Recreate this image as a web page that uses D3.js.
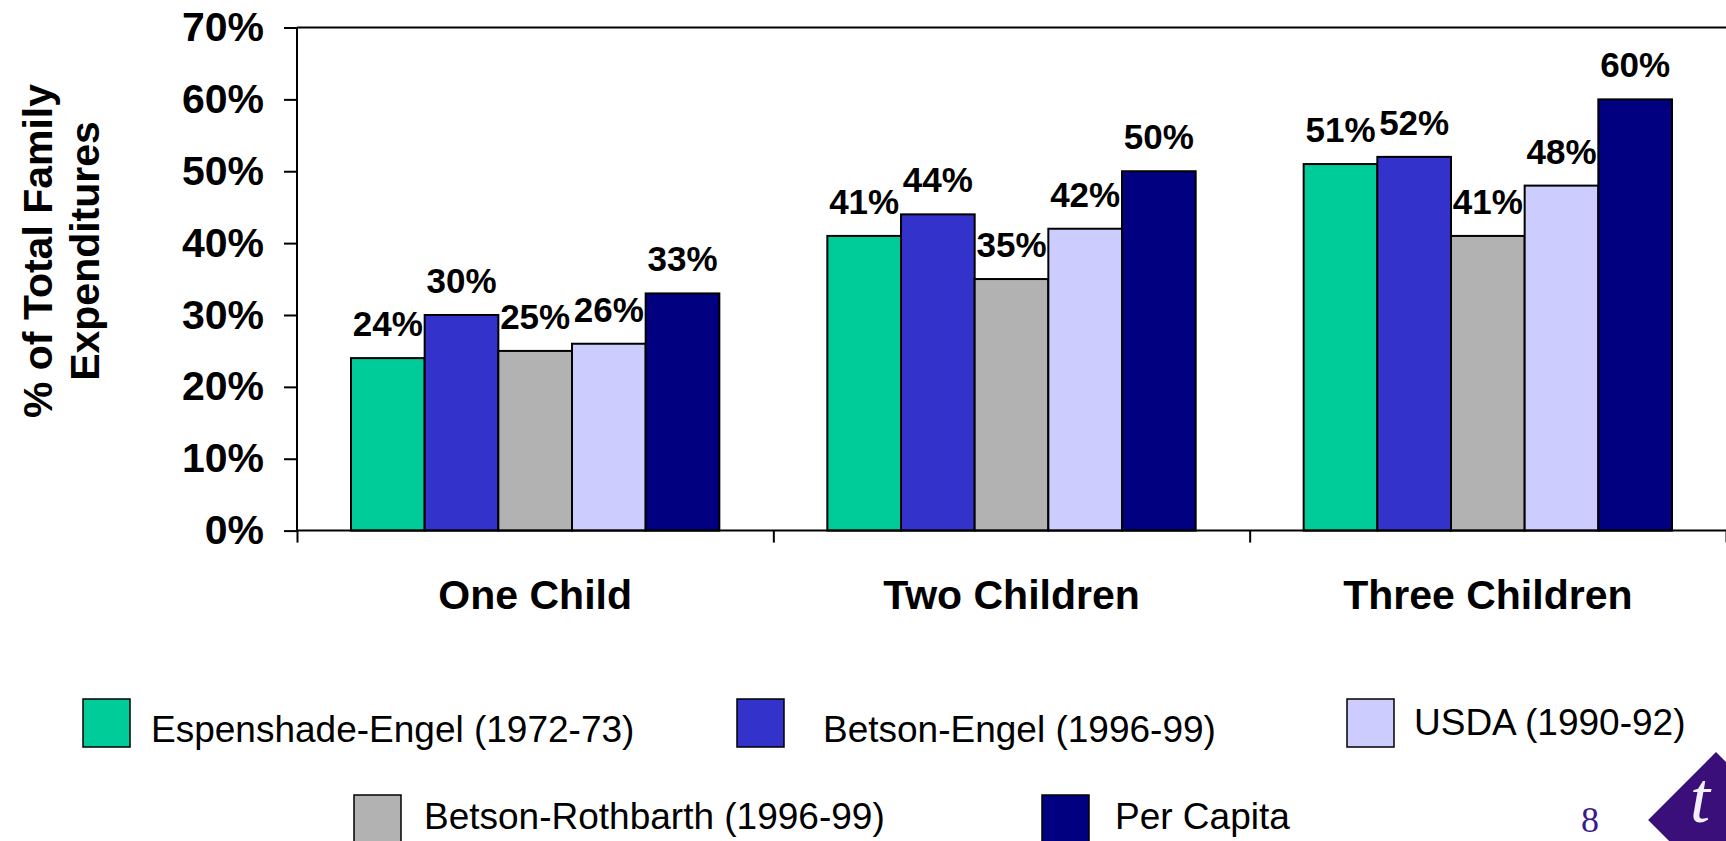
<!DOCTYPE html>
<html lang="en">
<head>
<meta charset="utf-8">
<title>Share of family expenditures on children</title>
<script src="https://cdn.jsdelivr.net/npm/d3@7"></script>
<style>
  body { margin: 0; background: #fff; }
  #chart text { font-family: "Liberation Sans", Arial, sans-serif; fill: #000; }
  #chart .axis path, #chart .axis line { stroke: #000; stroke-width: 2px; }
  #chart .bar { stroke: #000; stroke-width: 2px; }
</style>
</head>
<body>
<div id="chart"></div>

<script>
"use strict"

// data
var categories = ["One Child", "Two Children", "Three Children"];
var seriesNames = ["Espenshade-Engel (1972-73)", "Betson-Engel (1996-99)", "Betson-Rothbarth (1996-99)", "USDA (1990-92)", "Per Capita"];
var espenshadeEngel = [24, 41, 51];
var betsonEngel     = [30, 44, 52];
var betsonRothbarth = [25, 35, 41];
var usda            = [26, 42, 48];
var perCapita       = [33, 50, 60];
var yTicks = [0, 10, 20, 30, 40, 50, 60, 70];
var seriesColors = ["#00cc99", "#3333cc", "#b2b2b2", "#ccccff", "#000080"];

var seriesValues = [espenshadeEngel, betsonEngel, betsonRothbarth, usda, perCapita];

var larguraSVG = 1726, alturaSVG = 841;
var plot = {left: 297, right: 1726, top: 27.5, bottom: 530.6};

var svg = d3.select("#chart").append("svg")
    .attr("width", larguraSVG)
    .attr("height", alturaSVG);

// scales
var y = d3.scaleLinear().domain([0, 70]).range([plot.bottom, plot.top]);
var x0 = d3.scaleBand().domain(categories).range([plot.left, plot.right]).padding(0);
var x1 = d3.scaleBand().domain(seriesNames).range([54, x0.bandwidth() - 54]).padding(0);
var xEdges = d3.scaleLinear().domain([0, categories.length]).range([plot.left, plot.right]);

// flatten to one row per bar
var barras = [];
categories.forEach(function(c, i) {
  seriesNames.forEach(function(s, j) {
    barras.push({cat: c, serie: s, valor: seriesValues[j][i], cor: seriesColors[j]});
  });
});

// frame top line
svg.append("line")
  .attr("x1", plot.left).attr("x2", plot.right)
  .attr("y1", y(70)).attr("y2", y(70))
  .attr("stroke", "#000").attr("stroke-width", 2);

// bars
svg.selectAll("rect.bar")
  .data(barras)
  .enter().append("rect")
    .attr("class", "bar")
    .attr("x", d => x0(d.cat) + x1(d.serie))
    .attr("y", d => y(d.valor))
    .attr("width", x1.bandwidth())
    .attr("height", d => y(0) - y(d.valor))
    .attr("fill", d => d.cor);

// value labels
svg.selectAll("text.rotulo")
  .data(barras)
  .enter().append("text")
    .attr("class", "rotulo")
    .attr("x", d => x0(d.cat) + x1(d.serie) + x1.bandwidth() / 2)
    .attr("y", d => y(d.valor) - 22)
    .attr("text-anchor", "middle")
    .style("font-size", "35px")
    .style("font-weight", "bold")
    .text(d => d.valor + "%");

// y axis
var eixoY = svg.append("g")
  .attr("class", "axis")
  .attr("transform", "translate(" + plot.left + ",0)")
  .call(d3.axisLeft(y).tickValues(yTicks).tickSize(13).tickPadding(20).tickFormat(d => d + "%"));
eixoY.select(".domain").attr("d", "M0," + y(70) + "V" + y(0));
eixoY.selectAll("text").style("font-size", "41px").style("font-weight", "bold");

// x axis, ticks on the group edges
var eixoX = svg.append("g")
  .attr("class", "axis")
  .attr("transform", "translate(0," + y(0) + ")")
  .call(d3.axisBottom(xEdges).ticks(categories.length).tickSize(12).tickFormat(""));
eixoX.select(".domain").attr("d", "M" + plot.left + ",0H" + plot.right);

// category names
svg.selectAll("text.categoria")
  .data(categories)
  .enter().append("text")
    .attr("class", "categoria")
    .attr("x", d => x0(d) + x0.bandwidth() / 2)
    .attr("y", 609)
    .attr("text-anchor", "middle")
    .style("font-size", "41px")
    .style("font-weight", "bold")
    .text(d => d);

// y title, two lines
var titulo = svg.append("text")
  .attr("transform", "translate(0,251) rotate(-90)")
  .attr("text-anchor", "middle")
  .style("font-size", "41px")
  .style("font-weight", "bold");
titulo.append("tspan").attr("x", 0).attr("y", 52).text("% of Total Family");
titulo.append("tspan").attr("x", 0).attr("y", 99).text("Expenditures");

// legend, same slots as the slide
var legendSlots = [
  {x: 83, y: 699, tx: 151, ty: 729},
  {x: 737, y: 699, tx: 823, ty: 729},
  {x: 354, y: 795, tx: 424, ty: 816},
  {x: 1347, y: 699, tx: 1414, ty: 722},
  {x: 1042, y: 795, tx: 1115, ty: 816}
];
var legenda = svg.selectAll("g.legenda")
  .data(seriesNames)
  .enter().append("g")
    .attr("class", "legenda");
legenda.append("rect")
  .attr("x", (d, i) => legendSlots[i].x)
  .attr("y", (d, i) => legendSlots[i].y)
  .attr("width", 47)
  .attr("height", 48)
  .attr("fill", (d, i) => seriesColors[i])
  .attr("stroke", "#000")
  .attr("stroke-width", 1.5);
legenda.append("text")
  .attr("x", (d, i) => legendSlots[i].tx)
  .attr("y", (d, i) => legendSlots[i].ty)
  .attr("dy", "0.35em")
  .style("font-size", "37px")
  .text(d => d);

// slide number + logo corner
svg.append("text")
  .attr("x", 1590)
  .attr("y", 832)
  .attr("text-anchor", "middle")
  .style("font-family", "'Liberation Serif', 'Times New Roman', serif")
  .style("font-size", "36px")
  .style("fill", "#3a1a8a")
  .text("8");

svg.append("rect")
  .attr("x", -48).attr("y", -48)
  .attr("width", 96).attr("height", 96)
  .attr("transform", "translate(1716,820) rotate(45)")
  .attr("fill", "#3a0f7a");
svg.append("text")
  .attr("x", 1690)
  .attr("y", 822)
  .style("font-family", "'Liberation Serif', 'Times New Roman', serif")
  .style("font-style", "italic")
  .style("font-size", "72px")
  .style("fill", "#f4f0fa")
  .text("t");
</script>
</body>
</html>
